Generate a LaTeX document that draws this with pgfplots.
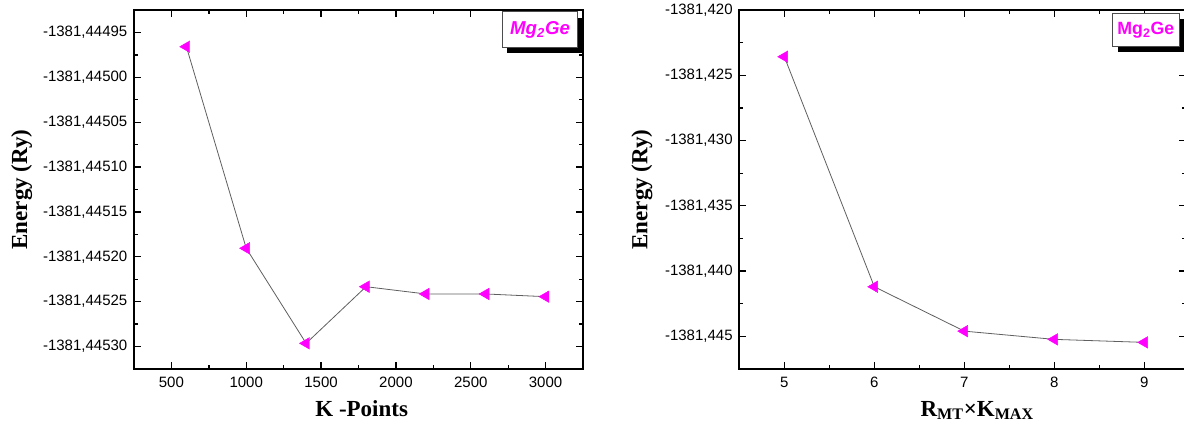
\documentclass[border=0pt]{standalone}
\usepackage{fontspec}
\setmainfont{Liberation Sans}
\newfontfamily\labelfont{Liberation Serif}
\usepackage{pgfplots}
\usepackage{pgfplotstable}
\pgfplotsset{compat=1.18}

\definecolor{markmag}{RGB}{255,0,255}
\definecolor{linegray}{RGB}{95,95,95}

% Total energy of Mg2Ge. To stay within the precision of pgf's floats the
% energies are stored as offsets:
%   kpts : dE in 1e-5 Ry relative to -1381.445 Ry
%   rkmax: dE in 1e-3 Ry relative to -1381.440 Ry
\pgfplotstableread{
k     dE
600    3.41
1000 -19.05
1400 -29.64
1800 -23.33
2200 -24.14
2600 -24.14
3000 -24.44
}\kpts
\pgfplotstableread{
rk  dE
5   16.42
6   -1.20
7   -4.60
8   -5.23
9   -5.46
}\rkmax

\pgfplotsset{
  energyaxis/.style={
    scale only axis,
    axis line style={line width=1.5pt},
    every tick/.style={line width=1pt, black},
    major tick length=5pt,
    minor tick length=3pt,
    tick align=inside,
    minor x tick num=1,
    minor y tick num=1,
    tick label style={font=\fontsize{11.25}{13}\selectfont},
    /pgf/number format/assume math mode=true,
    /pgf/number format/1000 sep={},
    xticklabel style={yshift=-2.5pt},
    yticklabel style={xshift=-1.5pt},
    label style={font=\fontsize{17.25}{20}\selectfont\labelfont\bfseries},
  },
  energyline/.style={
    color=linegray, line width=0.6pt,
    mark=triangle*, mark size=5pt,
    mark options={rotate=90, fill=markmag, draw=markmag, line width=0.3pt},
  },
}

\begin{document}
\begin{tikzpicture}
\useasboundingbox (0,0) rectangle (888pt,322.5pt);
\clip (0,0) rectangle (888pt,322.5pt);

% convergence with respect to the number of k-points
\begin{axis}[energyaxis,
  at={(100.5pt,45.75pt)}, anchor=south west,
  width=336.75pt, height=269.25pt,
  xmin=250, xmax=3250,
  ymin=-32.5, ymax=7.5,
  xtick={500,1000,...,3000},
  ytick={-30,-25,...,5},
  yticklabels={{-1381,44530},{-1381,44525},{-1381,44520},{-1381,44515},
               {-1381,44510},{-1381,44505},{-1381,44500},{-1381,44495}},
  xlabel={K -Points},
  ylabel={Energy (Ry)},
  x label style={at={(axis description cs:0.5,0)}, anchor=base, xshift=2.4pt, yshift=-35.25pt},
  y label style={at={(axis description cs:-0.2383,0.5)}, anchor=base},
]
\addplot[energyline] table[x=k, y=dE] {\kpts};
\end{axis}

% convergence with respect to RMT x KMAX
\begin{axis}[energyaxis,
  at={(554.5pt,45.75pt)}, anchor=south west,
  width=334.8pt, height=269.25pt,
  xmin=4.5, xmax=9.46,
  ymin=-7.5, ymax=20,
  xtick={5,6,...,9},
  ytick={-5,0,...,20},
  yticklabels={{-1381,445},{-1381,440},{-1381,435},{-1381,430},{-1381,425},{-1381,420}},
  xlabel={R\textsubscript{MT}×K\textsubscript{MAX}},
  ylabel={Energy (Ry)},
  x label style={at={(axis description cs:0.5,0)}, anchor=base, xshift=11pt, yshift=-35.25pt},
  y label style={at={(axis description cs:-0.2061,0.5)}, anchor=base},
]
\addplot[energyline] table[x=rk, y=dE] {\rkmax};
\end{axis}

% compound tags with a solid offset shadow
\fill[black] (380.5pt,282.5pt) rectangle (437.0pt,309pt);
\filldraw[fill=white, draw=black!70, line width=0.6pt] (377.0pt,287pt) rectangle (433.0pt,313.7pt);
\node[text=markmag, font=\fontsize{14}{16}\selectfont\bfseries\itshape] at (405pt,300.3pt) {Mg\textsubscript{2}Ge};

\fill[black] (838.5pt,283.4pt) rectangle (888.75pt,308.4pt);
\filldraw[fill=white, draw=black!70, line width=0.6pt] (834.5pt,287.5pt) rectangle (884.25pt,312.5pt);
\node[text=markmag, font=\fontsize{13.3}{15}\selectfont\bfseries] at (859.4pt,300pt) {Mg\textsubscript{2}Ge};
\end{tikzpicture}
\end{document}
